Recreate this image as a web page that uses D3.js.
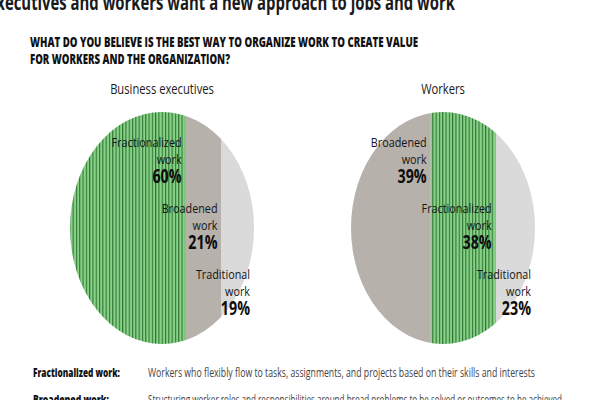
<!DOCTYPE html>
<html><head><meta charset="utf-8">
<script src="https://cdn.jsdelivr.net/npm/d3@7"></script>
<style>body{margin:0;background:#fff}svg{display:block}text{font-family:"Open Sans",sans-serif}</style>
</head><body><svg id="c" width="600" height="400"></svg>
<script>
const pageTitle = "Executives and workers want a new approach to jobs and work";
const questionLines = ["WHAT DO YOU BELIEVE IS THE BEST WAY TO ORGANIZE WORK TO CREATE VALUE", "FOR WORKERS AND THE ORGANIZATION?"];
const groups = ["Business executives", "Workers"];
const execCategories = ["Fractionalized", "Broadened", "Traditional"];
const execValues = [60, 21, 19];
const workerCategories = ["Broadened", "Fractionalized", "Traditional"];
const workerValues = [39, 38, 23];
const definitionTerms = ["Fractionalized work:", "Broadened work:"];
const definitionTexts = ["Workers who flexibly flow to tasks, assignments, and projects based on their skills and interests",
  "Structuring worker roles and responsibilities around broad problems to be solved or outcomes to be achieved"];

const svg = d3.select("#c");
const defs = svg.append("defs");
const pat = defs.append("pattern").attr("id", "stripes").attr("patternUnits", "userSpaceOnUse")
  .attr("width", 3.3).attr("height", 10);
pat.append("rect").attr("width", 3.3).attr("height", 10).attr("fill", "#88d288");
pat.append("rect").attr("width", 1.1).attr("height", 10).attr("fill", "#2f7334");

const fillFor = {Fractionalized: "url(#stripes)", Broadened: "#b7b1ac", Traditional: "#dadada"};

function squeeze(sel, f) {
  sel.each(function () {
    const L = this.getComputedTextLength();
    d3.select(this).attr("textLength", L * f).attr("lengthAdjust", "spacingAndGlyphs");
  });
}
function fit(sel, w) { sel.attr("textLength", w).attr("lengthAdjust", "spacingAndGlyphs"); }

// cut-off page title
fit(svg.append("text").attr("x", -12).attr("y", 10).attr("font-size", 21).attr("font-weight", 700)
  .attr("fill", "#1a1a1a").text(pageTitle), 467);

// question
const qW = [388, 200];
questionLines.forEach((t, i) => {
  fit(svg.append("text").attr("x", 30).attr("y", 47 + i * 17).attr("font-size", 14.5).attr("font-weight", 800)
    .attr("fill", "#111").text(t), qW[i]);
});

const pies = [
  {name: groups[0], cats: execCategories, vals: execValues, cx: 162},
  {name: groups[1], cats: workerCategories, vals: workerValues, cx: 443}
];
const cy = 228, rx = 92, ry = 116;

pies.forEach((p, pi) => {
  const g = svg.append("g");
  const clipId = "clip" + pi;
  defs.append("clipPath").attr("id", clipId).append("ellipse")
    .attr("cx", p.cx).attr("cy", cy).attr("rx", rx).attr("ry", ry);
  const xs = d3.scaleLinear().domain([0, 100]).range([p.cx - rx + 13, p.cx + rx]);
  const cum = d3.cumsum(p.vals);
  const segs = p.cats.map((c, i) => ({cat: c, val: p.vals[i], start: cum[i] - p.vals[i], end: cum[i], i}));

  g.append("g").attr("clip-path", `url(#${clipId})`).selectAll("rect").data(segs).join("rect")
    .attr("x", d => d.i === 0 ? p.cx - rx - 2 : xs(d.start))
    .attr("width", d => (d.i === 0 ? xs(d.end) - (p.cx - rx - 2) : xs(d.end) - xs(d.start)))
    .attr("y", cy - ry).attr("height", ry * 2)
    .attr("fill", d => fillFor[d.cat]);

  squeeze(svg.append("text").attr("x", p.cx).attr("y", 94).attr("text-anchor", "middle")
    .attr("font-size", 14).attr("fill", "#1a1a1a").text(p.name), 0.8);

  segs.forEach(d => {
    const xr = xs(d.end) - 4;
    const y0 = 147 + d.i * 66;
    const t1 = g.append("text").attr("x", xr).attr("y", y0).attr("text-anchor", "end")
      .attr("font-size", 13.5).attr("fill", "#151515").text(d.cat);
    const t2 = g.append("text").attr("x", xr).attr("y", y0 + 17).attr("text-anchor", "end")
      .attr("font-size", 13.5).attr("fill", "#151515").text("work");
    const t3 = g.append("text").attr("x", xr).attr("y", y0 + 36).attr("text-anchor", "end")
      .attr("font-size", 19).attr("font-weight", 700).attr("fill", "#0d0d0d").text(d.val + "%");
    squeeze(t1, 0.8); squeeze(t2, 0.8); squeeze(t3, 0.75);
  });
});

// definitions
const termW = [87, 76], textW = [387, 414];
definitionTerms.forEach((t, i) => {
  const y = 377 + i * 27;
  fit(svg.append("text").attr("x", 33).attr("y", y).attr("font-size", 12.5).attr("font-weight", 800)
    .attr("fill", "#111").text(t), termW[i]);
  fit(svg.append("text").attr("x", 148).attr("y", y).attr("font-size", 12.5)
    .attr("fill", "#444").text(definitionTexts[i]), textW[i]);
});
</script></body></html>
